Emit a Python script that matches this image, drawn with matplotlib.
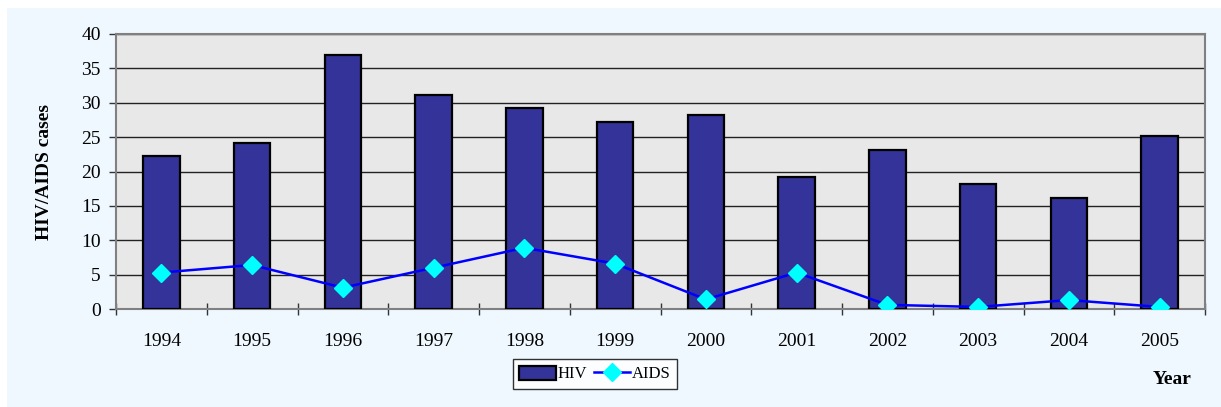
import matplotlib
matplotlib.use("Agg")
import matplotlib.pyplot as plt
from matplotlib.patches import Rectangle
import numpy as np

years = ["1994", "1995", "1996", "1997", "1998", "1999", "2000", "2001", "2002", "2003", "2004", "2005"]
hiv = [22.2, 24.2, 37.0, 31.2, 29.2, 27.2, 28.2, 19.2, 23.2, 18.2, 16.2, 25.2]
aids = [5.3, 6.4, 3.1, 6.0, 8.9, 6.6, 1.4, 5.3, 0.6, 0.3, 1.3, 0.3]
yticks = [0, 5, 10, 15, 20, 25, 30, 35, 40]

plt.rcParams['font.family'] = ['Liberation Serif', 'DejaVu Serif']

fig = plt.figure(figsize=(12.21, 4.07), dpi=100)
fig.patch.set_facecolor('white')
fig.patches.append(Rectangle((7/1221, 0), 1 - 7/1221, (407-8)/407, transform=fig.transFigure,
                             facecolor='#EEF8FE', edgecolor='none', zorder=-10))

ax = fig.add_axes([116/1221, 1 - 309/407, (1205-116)/1221, (309-34)/407])
ax.set_facecolor('#E8E8E8')
x = np.arange(len(years))
bars = ax.bar(x, hiv, width=0.4, color='#333399', edgecolor='black', linewidth=1.6, zorder=3, label='HIV')
line, = ax.plot(x, aids, color='#0000FF', linewidth=1.8, marker='D', markersize=9.5,
                markerfacecolor='#00FFFF', markeredgecolor='#00FFFF', zorder=4, label='AIDS')

ax.set_xlim(-0.5, len(years) - 0.5)
ax.set_ylim(0, 40)
ax.set_yticks(yticks)
ax.set_yticklabels([str(v) for v in yticks], fontsize=14)
ax.set_xticks(x)
ax.set_xticklabels(years, fontsize=14)
ax.set_xticks(np.arange(-0.5, len(years)), minor=True)
ax.tick_params(axis='x', which='major', length=0, pad=17)
ax.tick_params(axis='x', which='minor', length=9, direction='inout', width=1, color='#333333')
ax.tick_params(axis='y', length=5, direction='out', width=1, pad=6, color='#333333')
ax.yaxis.grid(True, color='#222222', linewidth=1.0, zorder=1)
ax.set_axisbelow(True)
for s in ax.spines.values():
    s.set_color('#808080')
    s.set_linewidth(1.5)

ax.set_ylabel('HIV/AIDS cases', fontsize=14, fontweight='bold')
ax.yaxis.set_label_coords(-0.058, 0.5)

fig.text(1172/1221, 1 - 380/407, 'Year', fontsize=14, fontweight='bold', ha='center', va='center')

leg = ax.legend([bars, line], ['HIV', 'AIDS'], loc='center', bbox_to_anchor=(595/1221, 1 - 374/407),
                bbox_transform=fig.transFigure,
                ncol=2, frameon=True, fancybox=False, fontsize=12, handlelength=2.2,
                handleheight=0.9, handletextpad=0.1, columnspacing=0.4, borderpad=0.4, borderaxespad=0)
leg.get_frame().set_edgecolor('black')
leg.get_frame().set_linewidth(1.0)
leg.get_frame().set_facecolor('white')

fig.savefig('out.png', dpi=100, facecolor=fig.get_facecolor())
